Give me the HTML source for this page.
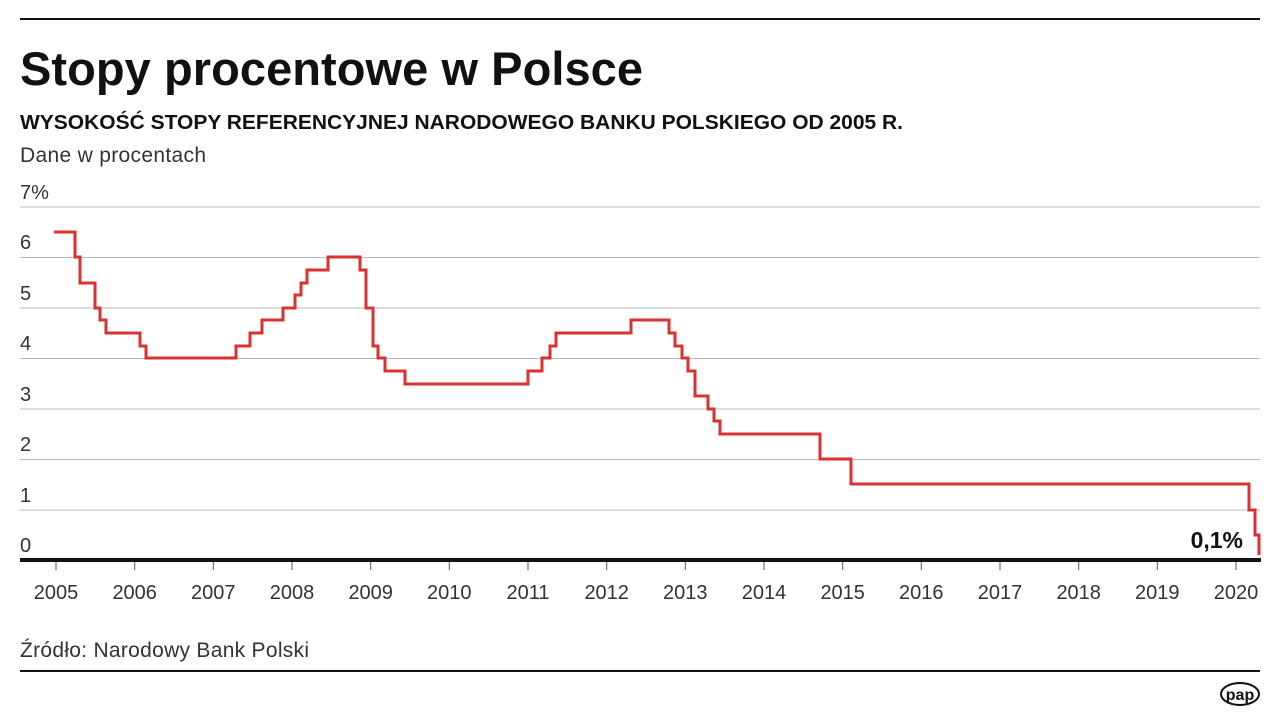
<!DOCTYPE html>
<html><head><meta charset="utf-8"><style>
body{margin:0;background:#fff;width:1280px;height:720px;overflow:hidden;font-family:"Liberation Sans",sans-serif}
</style></head><body>
<svg width="1280" height="720" viewBox="0 0 1280 720" xmlns="http://www.w3.org/2000/svg" font-family="Liberation Sans, sans-serif">
<line x1="20" y1="19" x2="1260" y2="19" stroke="#111" stroke-width="2"/>
<text x="20" y="85" font-size="47" font-weight="bold" fill="#111" textLength="623">Stopy procentowe w Polsce</text>
<text x="20" y="129" font-size="20" font-weight="bold" fill="#111" textLength="883" lengthAdjust="spacingAndGlyphs">WYSOKOŚĆ STOPY REFERENCYJNEJ NARODOWEGO BANKU POLSKIEGO OD 2005 R.</text>
<text x="20" y="162" font-size="21" fill="#333" textLength="186">Dane w procentach</text>
<g stroke="#bbb" stroke-width="1">
<line x1="20" y1="207" x2="1260" y2="207"/><line x1="20" y1="257.5" x2="1260" y2="257.5"/>
<line x1="20" y1="308" x2="1260" y2="308"/><line x1="20" y1="358.5" x2="1260" y2="358.5"/>
<line x1="20" y1="409" x2="1260" y2="409"/><line x1="20" y1="459.5" x2="1260" y2="459.5"/>
<line x1="20" y1="510" x2="1260" y2="510"/>
</g>
<g font-size="20" fill="#333">
<text x="20" y="199">7%</text><text x="20" y="249">6</text><text x="20" y="300">5</text>
<text x="20" y="350">4</text><text x="20" y="401">3</text><text x="20" y="451">2</text>
<text x="20" y="502">1</text><text x="20" y="552">0</text>
</g>
<path d="M54 232 H75 V257 H80 V283 H95 V308 H100 V320 H106 V333 H140 V346 H146 V358 H236 V346 H250 V333 H262 V320 H283 V308 H295 V295 H301 V283 H307 V270 H328 V257 H360 V270 H366 V308 H373 V346 H378 V358 H385 V371 H405 V384 H528 V371 H542 V358 H550 V346 H556 V333 H631 V320 H669 V333 H675 V346 H682 V358 H688 V371 H695 V396 H708 V409 H714 V421 H720 V434 H820 V459 H851 V484 H1249 V510 H1255 V535 H1259 V555" fill="none" stroke="#d93232" stroke-width="3"/>
<line x1="20" y1="560" x2="1261" y2="560" stroke="#111" stroke-width="4"/>
<g stroke="#555" stroke-width="1">
<line x1="56" y1="562" x2="56" y2="570"/><line x1="134.7" y1="562" x2="134.7" y2="570"/><line x1="213.3" y1="562" x2="213.3" y2="570"/><line x1="292" y1="562" x2="292" y2="570"/><line x1="370.7" y1="562" x2="370.7" y2="570"/><line x1="449.3" y1="562" x2="449.3" y2="570"/><line x1="528" y1="562" x2="528" y2="570"/><line x1="606.7" y1="562" x2="606.7" y2="570"/><line x1="685.3" y1="562" x2="685.3" y2="570"/><line x1="764" y1="562" x2="764" y2="570"/><line x1="842.7" y1="562" x2="842.7" y2="570"/><line x1="921.3" y1="562" x2="921.3" y2="570"/><line x1="1000" y1="562" x2="1000" y2="570"/><line x1="1078.7" y1="562" x2="1078.7" y2="570"/><line x1="1157.3" y1="562" x2="1157.3" y2="570"/><line x1="1236" y1="562" x2="1236" y2="570"/>
</g>
<g font-size="20" fill="#333" text-anchor="middle">
<text x="56" y="599">2005</text><text x="134.7" y="599">2006</text><text x="213.3" y="599">2007</text><text x="292" y="599">2008</text><text x="370.7" y="599">2009</text><text x="449.3" y="599">2010</text><text x="528" y="599">2011</text><text x="606.7" y="599">2012</text><text x="685.3" y="599">2013</text><text x="764" y="599">2014</text><text x="842.7" y="599">2015</text><text x="921.3" y="599">2016</text><text x="1000" y="599">2017</text><text x="1078.7" y="599">2018</text><text x="1157.3" y="599">2019</text><text x="1236" y="599">2020</text>
</g>
<text x="1243" y="548" font-size="23" font-weight="bold" fill="#111" text-anchor="end">0,1%</text>
<text x="20" y="657" font-size="21" fill="#333" textLength="289">Źródło: Narodowy Bank Polski</text>
<line x1="20" y1="671" x2="1260" y2="671" stroke="#111" stroke-width="2"/>
<ellipse cx="1240" cy="694" rx="19" ry="11" fill="#fff" stroke="#111" stroke-width="2"/>
<text x="1240" y="700" font-size="16" font-weight="bold" fill="#111" text-anchor="middle">pap</text>
</svg>
</body></html>
